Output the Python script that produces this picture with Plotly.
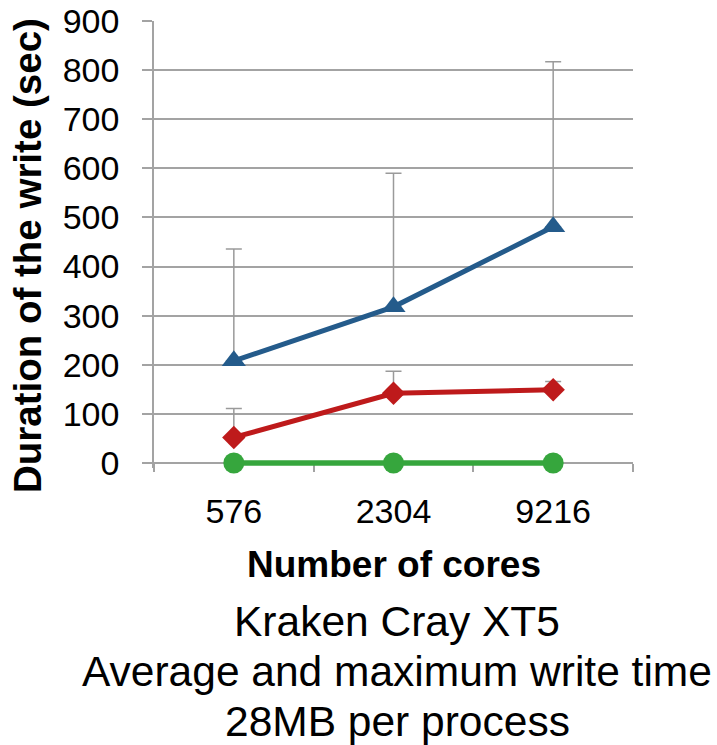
import plotly.graph_objects as go

# Write-time benchmark on Kraken (Cray XT5), 28MB per process
cores = ["576", "2304", "9216"]
avg_write_blue = [208, 318, 481]
max_write_blue = [436, 590, 817]
avg_write_red = [52, 142, 149]
max_write_red = [111, 187, 166]
write_green = [0, 0, 0]

y_ticks = [0, 100, 200, 300, 400, 500, 600, 700, 800, 900]
y_max = 900

title_lines = ["Kraken Cray XT5", "Average and maximum write time", "28MB per process"]

W, H = 717, 745
L, R, T = 154, 84, 21
ZERO_PX = 463          # pixel row of the value axis zero
PAD_PX = 5             # extra room below zero so the flat series is not clipped
B = H - ZERO_PX - PAD_PX
plot_w = W - L - R
plot_h = H - T - B
y_lo = -y_max * PAD_PX / (ZERO_PX - T)

FONT = "Liberation Sans, Arial, sans-serif"
GRID = "#a3a3a3"


def px_x(px):
    return (px - L) / plot_w


def px_y(py):
    return (H - B - py) / plot_h


def up_err(avg, mx):
    return [m - a for a, m in zip(avg, mx)]


fig = go.Figure()

fig.add_trace(go.Scatter(
    x=cores, y=write_green, mode="lines+markers",
    line=dict(color="#36a63d", width=5.5),
    marker=dict(symbol="circle", size=21, color="#36a63d"),
    cliponaxis=False,
    showlegend=False,
))

fig.add_trace(go.Scatter(
    x=cores, y=avg_write_red, mode="lines+markers",
    line=dict(color="#be1a1b", width=5),
    marker=dict(symbol="diamond", size=18, color="#be1a1b"),
    error_y=dict(type="data", symmetric=False,
                 array=up_err(avg_write_red, max_write_red),
                 arrayminus=[0] * len(cores),
                 color="#9a9a9a", thickness=1.5, width=8),
    cliponaxis=False,
    showlegend=False,
))

fig.add_trace(go.Scatter(
    x=cores, y=avg_write_blue, mode="lines+markers",
    line=dict(color="#245b8b", width=5),
    marker=dict(symbol="triangle-up", size=21, color="#245b8b"),
    error_y=dict(type="data", symmetric=False,
                 array=up_err(avg_write_blue, max_write_blue),
                 arrayminus=[0] * len(cores),
                 color="#9a9a9a", thickness=1.5, width=8),
    cliponaxis=False,
    showlegend=False,
))

fig.update_layout(
    width=W, height=H,
    margin=dict(l=L, r=R, t=T, b=B, pad=0, autoexpand=False),
    paper_bgcolor="white", plot_bgcolor="white",
    font=dict(family=FONT, color="black"),
    xaxis=dict(
        type="category",
        automargin=False,
        anchor="free",
        position=PAD_PX / plot_h,
        layer="below traces",
        tickson="boundaries",
        ticks="outside", ticklen=8, tickwidth=1.5, tickcolor=GRID,
        showline=True, linecolor=GRID, linewidth=1.5,
        showgrid=False,
        tickfont=dict(size=34, family=FONT),
        ticklabelstandoff=18,
        range=[-0.5, 2.5],
    ),
    yaxis=dict(
        range=[y_lo, y_max],
        automargin=False,
        layer="below traces",
        tickvals=y_ticks,
        ticktext=[str(v) for v in y_ticks],
        ticks="outside", ticklen=10, tickwidth=1.5, tickcolor=GRID,
        showline=True, linecolor=GRID, linewidth=1.5,
        showgrid=True, gridcolor=GRID, gridwidth=1.5,
        zeroline=False,
        tickfont=dict(size=34, family=FONT),
        ticklabelstandoff=16,
    ),
)

annotations = [
    dict(text="<b>Number of cores</b>", xref="paper", yref="paper",
         x=px_x(394), y=px_y(564), showarrow=False,
         font=dict(size=37, family=FONT), xanchor="center", yanchor="middle"),
    dict(text="<b>Duration of the write (sec)</b>", xref="paper", yref="paper",
         x=px_x(28), y=px_y(256), showarrow=False, textangle=-90,
         font=dict(size=38.5, family=FONT), xanchor="center", yanchor="middle"),
]
for line, cy in zip(title_lines, [621, 671, 721]):
    annotations.append(dict(
        text=line, xref="paper", yref="paper",
        x=px_x(397), y=px_y(cy), showarrow=False,
        font=dict(size=42.5, family=FONT), xanchor="center", yanchor="middle",
    ))
fig.update_layout(annotations=annotations)

fig.write_html("out.html")
